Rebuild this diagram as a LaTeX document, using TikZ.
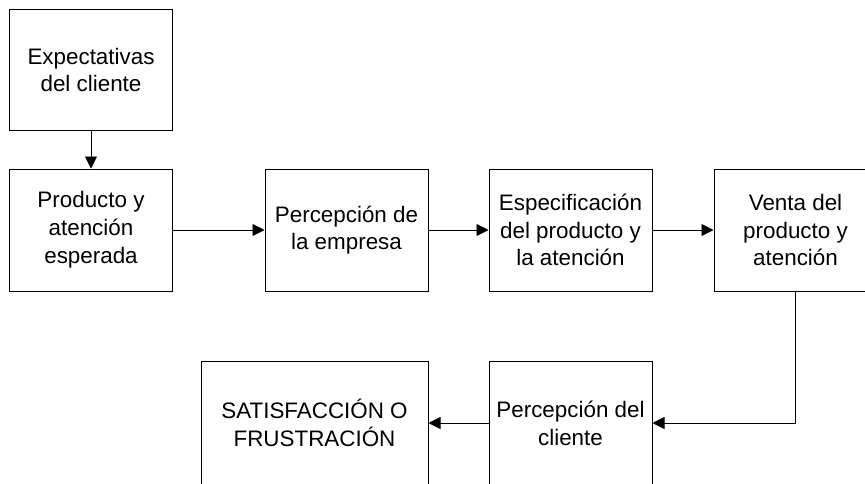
\documentclass[tikz,border=0pt]{standalone}
\usepackage{fontspec}
\setmainfont{Liberation Sans}
\usetikzlibrary{arrows.meta}
\begin{document}
\begin{tikzpicture}[x=1pt,y=-1pt,
  box/.style={draw=black,line width=1pt,minimum width=163pt,minimum height=122pt,inner sep=0pt,align=center,font=\fontsize{22.4}{27.8}\selectfont},
  conn/.style={draw=black,line width=0.9pt,-{Triangle[length=12pt,width=12pt]}}]
\useasboundingbox (0,0) rectangle (865,483);
\clip (0,0) rectangle (865,483);
\node[box,minimum height=121pt] (e1) at (91,70) {Expectativas\\del cliente};
\node[box] (e2) at (91,230) {Producto y\\atención\\esperada};
\node[box] (e3) at (346.5,230) {Percepción de\\la empresa};
\node[box] (e4) at (570.5,230) {Especificación\\del producto y\\la atención};
\node[box] (e5) at (795.5,230) {Venta del\\producto y\\atención};
\node[box,minimum height=124pt] (e6) at (570.5,423) {Percepción del\\cliente};
\node[box,minimum width=227pt,minimum height=124pt] (e7) at (314.5,423) {SATISFACCIÓN O\\FRUSTRACIÓN};
\draw[conn] (e1) -- (e2);
\draw[conn] (e2) -- (e3);
\draw[conn] (e3) -- (e4);
\draw[conn] (e4) -- (e5);
\draw[conn] (e5.south) |- (e6.east);
\draw[conn] (e6) -- (e7);
\end{tikzpicture}
\end{document}
